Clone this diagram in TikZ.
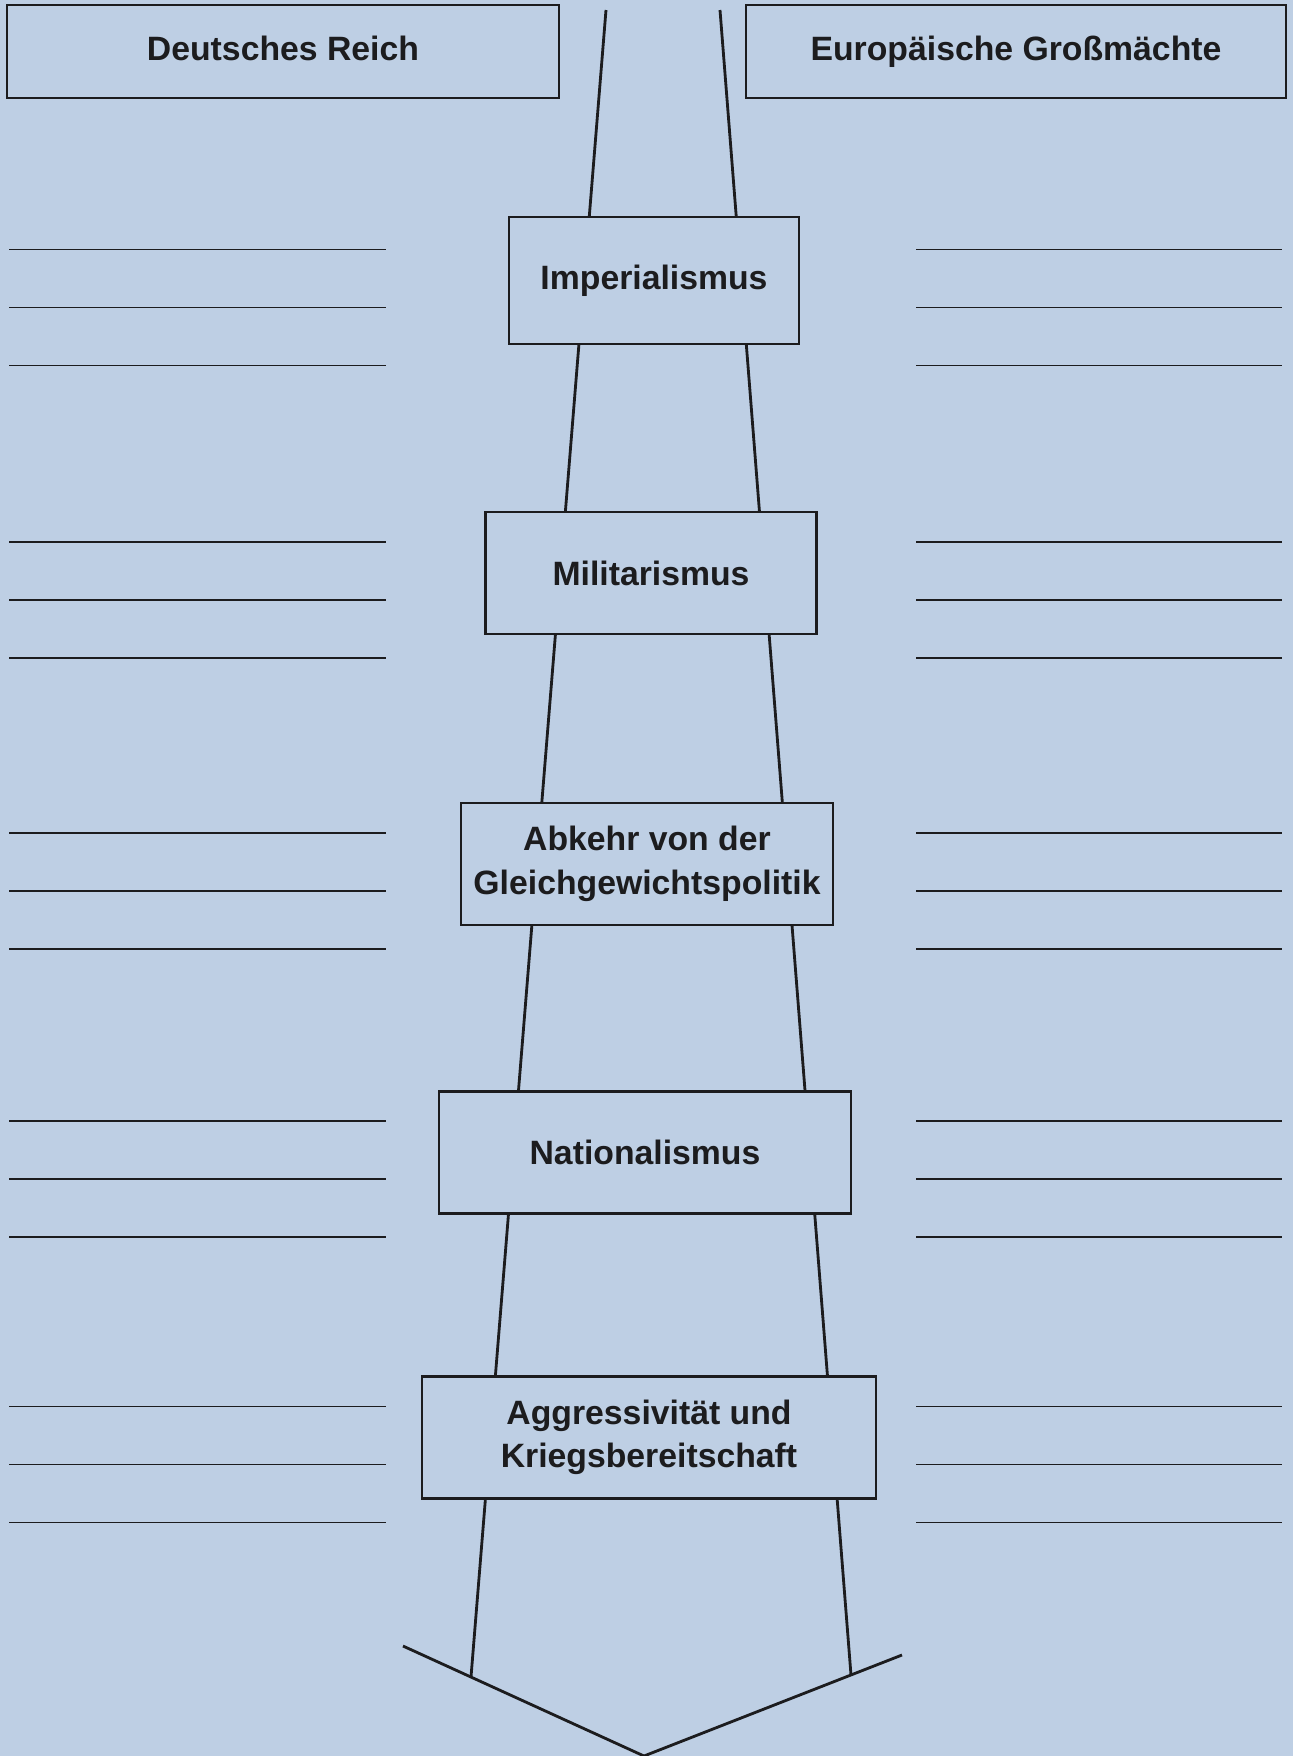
\documentclass[tikz,border=0pt]{standalone}
\usepackage{fontspec}
\setmainfont{Liberation Sans}
\usepackage{xcolor}
\usepackage{tikz}
\usetikzlibrary{positioning}
\definecolor{paper}{RGB}{190, 207, 228}
\definecolor{ink}{RGB}{28, 28, 30}

\begin{document}
\begin{tikzpicture}[
            x=0.01cm, y=-0.01cm,
            cause/.style={rectangle, draw=ink, fill=paper, line width=0.7pt, minimum width=#1, minimum height=1.22cm, align=center, text=ink, font=\fontsize{9.6}{12.4}\selectfont\bfseries},
            head/.style={rectangle, draw=ink, line width=0.7pt, minimum width=#1, minimum height=0.93cm, text height=0.75em, text depth=0.25em, text=ink, font=\fontsize{9.6}{12.4}\selectfont\bfseries},
            blank/.style={draw=ink, line width=0.55pt},
            funnel/.style={draw=ink, line width=0.8pt}
        ]
            \fill[paper] (0,0) rectangle (1293,1756);
            \useasboundingbox (0,0) rectangle (1293,1756);

            \node (reich) [head=5.52cm] at (283,51.5) {Deutsches Reich};
            \node (maechte) [head=5.40cm] at (1016,51.5) {Europäische Großmächte};

            % funnel and arrow head
            \coordinate (fl top) at (606,10);
            \coordinate (fr top) at (720,10);
            \coordinate (fl bot) at (471,1677);
            \coordinate (fr bot) at (851,1675);
            \coordinate (tip) at (644,1756);
            \coordinate (al) at (403,1646);
            \coordinate (ar) at (902,1655);
            \draw[funnel] (fl top) -- (fl bot);
            \draw[funnel] (fr top) -- (fr bot);
            \draw[funnel] (al) -- (tip) -- (ar);

            \node (imp) [cause=2.90cm, minimum height=1.27cm] at (654,280.5) {Imperialismus};
            \node (mil) [cause=3.31cm, below=1.655cm of imp, xshift=-0.03cm] {Militarismus};
            \node (abk) [cause=3.72cm, below=1.66cm of mil, xshift=-0.04cm] {Abkehr von der\\Gleichgewichtspolitik};
            \node (nat) [cause=4.12cm, below=1.64cm of abk, xshift=-0.02cm] {Nationalismus};
            \node (agg) [cause=4.54cm, below=1.605cm of nat, xshift=0.04cm] {Aggressivität und\\Kriegsbereitschaft};

            % writing lines
            \foreach \b in {imp, mil, abk, nat, agg}
                \foreach \d in {-31, 27, 85} {
                    \draw[blank] (9,0 |- \b.center) ++(0,\d) -- ++(377,0);
                    \draw[blank] (916,0 |- \b.center) ++(0,\d) -- ++(366,0);
                }
        \end{tikzpicture}
\end{document}
